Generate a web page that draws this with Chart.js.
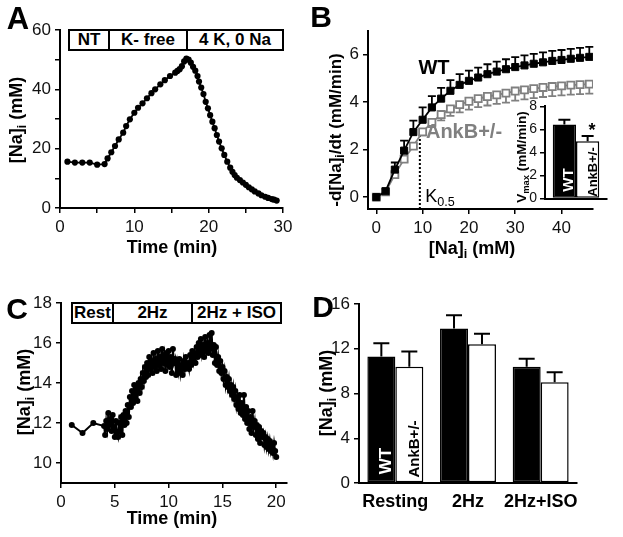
<!DOCTYPE html>
<html>
<head>
<meta charset="utf-8">
<script src="https://cdn.jsdelivr.net/npm/chart.js@4.4.1/dist/chart.umd.min.js"></script>
<style>
  html, body { margin: 0; padding: 0; background: #fff; }
  #fig { position: relative; width: 623px; height: 537px; overflow: hidden; font-family: "Liberation Sans", Arial, sans-serif; color: #000; }
  canvas { position: absolute; }
  .t { position: absolute; white-space: nowrap; font-weight: bold; line-height: 1; transform: translate(-50%, -50%); }
  .rot { transform: translate(-50%, -50%) rotate(-90deg); }
  .box { position: absolute; display: flex; border: 2px solid #000; box-sizing: border-box; background: #fff; font-weight: bold; font-size: 17px; }
  .box div { display: flex; align-items: center; justify-content: center; border-right: 2px solid #000; box-sizing: border-box; }
  .box div:last-child { border-right: none; }
  sub { font-size: 70%; vertical-align: -0.28em; line-height: 0; }
</style>
</head>
<body>
<div id="fig">
  <canvas id="chartA" width="310" height="268" style="left:0;top:0"></canvas>
  <canvas id="chartB" width="313" height="268" style="left:310px;top:0"></canvas>
  <canvas id="chartInset" width="120" height="115" style="left:495px;top:95px"></canvas>
  <canvas id="chartC" width="310" height="267" style="left:0;top:270px"></canvas>
  <canvas id="chartD" width="313" height="267" style="left:310px;top:270px"></canvas>

  <!-- panel letters -->
  <div class="t" style="left:18px;top:18px;font-size:31px">A</div>
  <div class="t" style="left:321px;top:17px;font-size:30px">B</div>
  <div class="t" style="left:17px;top:309px;font-size:30px">C</div>
  <div class="t" style="left:323px;top:307px;font-size:30px">D</div>

  <!-- panel A -->
  <div class="box" style="left:68px;top:29px;width:216px;height:22px">
    <div style="width:40px">NT</div><div style="width:78px">K- free</div><div style="flex:1">4 K, 0 Na</div>
  </div>
  <div class="t rot" style="left:16px;top:120px;font-size:18px">[Na]<sub>i</sub> (mM)</div>
  <div class="t" style="left:172px;top:247px;font-size:18px">Time (min)</div>

  <!-- panel B -->
  <div class="t rot" style="left:335px;top:130px;font-size:17px">-d[Na]<sub>i</sub>/dt (mM/min)</div>
  <div class="t" style="left:472px;top:248px;font-size:18px">[Na]<sub>i</sub> (mM)</div>
  <div class="t" style="left:434px;top:67px;font-size:20px">WT</div>
  <div class="t" style="left:464px;top:131px;font-size:20px;color:#808080">AnkB+/-</div>
  <div class="t" style="left:440px;top:196px;font-size:18px;font-weight:normal">K<sub>0.5</sub></div>
  <div class="t rot" style="left:522px;top:157px;font-size:13.5px">V<sub>max</sub> (mM/min)</div>
  <div class="t" style="left:592px;top:130px;font-size:18px">*</div>
  <div class="t rot" style="left:567px;top:180px;font-size:15px;color:#fff">WT</div>
  <div class="t rot" style="left:592px;top:172px;font-size:13px">AnkB+/-</div>

  <!-- panel C -->
  <div class="box" style="left:71px;top:302px;width:211px;height:22px">
    <div style="width:41px">Rest</div><div style="width:79px">2Hz</div><div style="flex:1">2Hz + ISO</div>
  </div>
  <div class="t rot" style="left:24px;top:392px;font-size:18px">[Na]<sub>i</sub> (mM)</div>
  <div class="t" style="left:172px;top:518px;font-size:18px">Time (min)</div>

  <!-- panel D -->
  <div class="t rot" style="left:326px;top:393px;font-size:18px">[Na]<sub>i</sub> (mM)</div>
  <div class="t rot" style="left:385px;top:461px;font-size:17px;color:#fff">WT</div>
  <div class="t rot" style="left:413px;top:449px;font-size:15px">AnkB+/-</div>
</div>

<script>
// ---- panel A: [Na]i trace (NT -> K-free -> 4K, 0Na)
const aTime = [1, 2, 3, 4, 5, 6, 6.4, 6.9, 7.4, 7.9, 8.5, 8.9, 9.4, 10.0, 10.5, 11.1,
  11.7, 12.3, 12.8, 13.5, 14.1, 14.8, 15.5, 15.8, 16.1, 16.4, 16.7, 17.0, 17.3, 17.6,
  17.9, 18.2, 18.5, 18.7, 19.0, 19.3, 19.6, 19.9, 20.2, 20.5, 20.8, 21.1, 21.4, 21.75,
  22.1, 22.5, 22.9, 23.2, 23.5, 23.8, 24.2, 24.6, 25.0, 25.4, 25.8, 26.2, 26.7, 27.1,
  27.6, 28.0, 28.5, 28.8, 29.15];
const aNa = [15.6, 15.3, 15.3, 15.3, 14.6, 14.8, 16.7, 18.8, 20.9, 23.1, 25.4, 27.6, 29.9, 32.1, 33.8, 35.3,
  37.0, 38.7, 40.0, 41.7, 43.1, 44.5, 45.6, 46.2, 46.8, 47.8, 49.4, 50.4, 50.0, 49.0,
  47.6, 46.3, 44.5, 42.6, 40.6, 38.4, 35.8, 33.6, 31.3, 29.1, 26.9, 24.6, 22.4, 20.1,
  17.9, 15.6, 13.6, 12.2, 11.1, 10.2, 9.4, 8.6, 7.8, 7.0, 6.3, 5.6, 4.9, 4.3,
  3.8, 3.4, 3.0, 2.8, 2.5];

// ---- panel B: Na/K pump rate vs [Na]i
const bNa = [0, 2, 4, 6, 8, 10, 12, 14, 16, 18, 20, 22, 24, 26, 28, 30, 32, 34, 36, 38, 40, 42, 44, 46];
const bWT = [0, 0.25, 1.16, 1.96, 2.74, 3.26, 3.78, 4.15, 4.48, 4.73, 4.9, 5.04, 5.18, 5.29, 5.39, 5.48, 5.55, 5.62, 5.68, 5.74, 5.78, 5.83, 5.87, 5.91];
const bWTErr = [0, 0.1, 0.3, 0.42, 0.48, 0.52, 0.48, 0.45, 0.45, 0.45, 0.43, 0.42, 0.42, 0.42, 0.42, 0.42, 0.42, 0.42, 0.42, 0.42, 0.42, 0.42, 0.42, 0.42];
const bAnk = [0, 0.22, 0.95, 1.6, 2.15, 2.75, 3.15, 3.48, 3.72, 3.9, 4.04, 4.15, 4.24, 4.31, 4.38, 4.47, 4.52, 4.57, 4.62, 4.66, 4.69, 4.72, 4.74, 4.76];
const bAnkErr = [0, 0.05, 0.1, 0.1, 0.12, 0.15, 0.2, 0.25, 0.3, 0.33, 0.35, 0.36, 0.38, 0.38, 0.4, 0.4, 0.4, 0.4, 0.4, 0.4, 0.4, 0.4, 0.4, 0.4];
const kHalf = 9.4;
const kHalfTop = 2.65;
const vmax = [6.44, 4.97];
const vmaxErr = [0.4, 0.46];

// ---- panel C: [Na]i during pacing
const cTime = [1, 2, 3,
  4.0, 4.1, 4.2, 4.3, 4.4, 4.5, 4.6, 4.7, 4.8, 4.9,
  5.0, 5.1, 5.2, 5.3, 5.4, 5.5, 5.6, 5.7, 5.8, 5.9,
  6.0, 6.1, 6.2, 6.3, 6.4, 6.5, 6.6, 6.7, 6.8, 6.9,
  7.0, 7.1, 7.2, 7.3, 7.4, 7.5, 7.6, 7.7, 7.8, 7.9,
  8.0, 8.1, 8.2, 8.3, 8.4, 8.5, 8.6, 8.7, 8.8, 8.9,
  9.0, 9.1, 9.2, 9.3, 9.4, 9.5, 9.6, 9.7, 9.8, 9.9,
  10.0, 10.1, 10.2, 10.3, 10.4, 10.5, 10.6, 10.7, 10.8, 10.9,
  11.0, 11.1, 11.2, 11.3, 11.4, 11.5, 11.6, 11.7, 11.8, 11.9,
  12.0, 12.1, 12.2, 12.3, 12.4, 12.5, 12.6, 12.7, 12.8, 12.9,
  13.0, 13.1, 13.2, 13.3, 13.4, 13.5, 13.6, 13.7, 13.8, 13.9,
  14.0, 14.1, 14.2, 14.3, 14.4, 14.5, 14.6, 14.7, 14.8, 14.9,
  15.0, 15.1, 15.2, 15.3, 15.4, 15.5, 15.6, 15.7, 15.8, 15.9,
  16.0, 16.1, 16.2, 16.3, 16.4, 16.5, 16.6, 16.7, 16.8, 16.9,
  17.0, 17.1, 17.2, 17.3, 17.4, 17.5, 17.6, 17.7, 17.8, 17.9,
  18.0, 18.1, 18.2, 18.3, 18.4, 18.5, 18.6, 18.7, 18.8, 18.9,
  19.0, 19.1, 19.2, 19.3, 19.4, 19.5, 19.6, 19.7, 19.8, 19.9,
  20.0];
const cNa = [11.9, 11.5, 12.0,
  11.85, 11.4, 12.1, 11.7, 12.5, 11.9, 12.2, 11.6, 12.4, 11.8,
  11.3, 12.1, 11.5, 11.3, 12.0, 11.6, 12.3, 11.4, 12.4, 11.9,
  12.6, 12.0, 12.9, 12.3, 13.3, 12.8, 13.6, 13.0, 13.9, 13.2,
  13.8, 13.1, 14.0, 13.5, 14.2, 13.8, 14.5, 14.1, 14.8, 14.3,
  15.0, 14.4, 15.3, 14.7, 15.1, 14.5, 15.5, 14.8, 15.2, 14.6,
  15.6, 14.9, 15.3, 14.7, 15.7, 15.0, 15.4, 14.6, 15.5, 14.9,
  15.6, 14.8, 15.3, 14.5, 15.7, 15.0, 15.2, 14.4, 15.0, 14.6,
  15.2, 14.5, 14.9, 14.4, 15.1, 14.7, 15.3, 14.8, 15.0, 14.7,
  15.4, 14.9, 15.6, 15.1, 15.5, 15.0, 15.8, 15.3, 16.0, 15.4,
  16.2, 15.5, 15.9, 15.3, 16.3, 15.6, 16.0, 15.5, 16.4, 15.7,
  16.5, 15.4, 15.9, 15.0, 15.8, 14.9, 15.3, 14.6, 15.1, 14.5,
  14.8, 14.2, 14.6, 13.9, 14.3, 13.8, 14.2, 13.6, 13.9, 13.4,
  13.8, 13.2, 13.6, 12.9, 13.3, 12.7, 13.4, 12.5, 13.0, 12.4,
  13.4, 12.2, 12.8, 12.0, 12.6, 11.7, 12.3, 11.5, 12.6, 11.8,
  12.1, 11.4, 11.9, 11.2, 11.8, 11.0, 11.6, 11.3, 11.5, 10.9,
  11.3, 10.8, 11.2, 10.7, 11.1, 10.6, 10.9, 10.5, 11.0, 10.6,
  10.3];

// ---- panel D: mean [Na]i per condition
const dCats = ['Resting', '2Hz', '2Hz+ISO'];
const dWT = [11.3, 13.8, 10.4];
const dWTErr = [1.2, 1.2, 0.7];
const dAnk = [10.4, 12.4, 9.0];
const dAnkErr = [1.35, 0.95, 0.9];

const FONT = '"Liberation Sans", Arial, sans-serif';
Chart.defaults.font.family = FONT;
Chart.defaults.animation = false;
Chart.defaults.responsive = false;
Chart.defaults.plugins.legend.display = false;
Chart.defaults.plugins.tooltip.enabled = false;

// error bars drawn from dataset.err, in the dataset's y scale
const errorBars = {
    id: 'errorBars',
    beforeDatasetsDraw(chart) {
        const ctx = chart.ctx;
        const yScale = chart.scales.y;
        chart.data.datasets.forEach((ds, i) => {
            if (!ds.err) return;
            const meta = chart.getDatasetMeta(i);
            ctx.save();
            ctx.strokeStyle = ds.errColor || '#000';
            ctx.lineWidth = ds.errWidth || 1.5;
            meta.data.forEach((el, j) => {
                const e = ds.err[j];
                if (!e) return;
                const raw = ds.data[j];
                const v = typeof raw === 'object' ? raw.y : raw;
                const y0 = yScale.getPixelForValue(v);
                const y1 = yScale.getPixelForValue(v + (ds.errDir || 1) * e);
                const half = (ds.capWidth || 8) / 2;
                ctx.beginPath();
                ctx.moveTo(el.x, y0); ctx.lineTo(el.x, y1);
                ctx.moveTo(el.x - half, y1); ctx.lineTo(el.x + half, y1);
                ctx.stroke();
            });
            ctx.restore();
        });
    }
};

function axis(opts) {
    return {
        type: opts.type || 'linear',
        min: opts.min, max: opts.max,
        border: { color: '#000', width: 2 },
        grid: { drawOnChartArea: false, drawTicks: opts.drawTicks !== false, color: '#000', lineWidth: 1.5, tickLength: 5 },
        ticks: Object.assign({
            color: '#111',
            font: { size: opts.fontSize || 17 },
            padding: 4,
            stepSize: opts.step,
            includeBounds: false,
            maxRotation: 0,
            autoSkip: false,
            display: opts.showTicks !== false
        }, opts.ticks || {}),
        afterFit(scale) {
            if (scale.isHorizontal()) scale.height = opts.size;
            else scale.width = opts.size;
        }
    };
}

function xy(xs, ys) {
    return xs.map((x, i) => ({ x: x, y: ys[i] }));
}

// Panel A
new Chart(document.getElementById('chartA'), {
    type: 'line',
    data: {
        datasets: [{
            data: xy(aTime, aNa),
            borderColor: '#000', borderWidth: 1.8,
            pointRadius: 3.1, pointBackgroundColor: '#000', pointBorderWidth: 0
        }]
    },
    options: {
        layout: { padding: { top: 30, right: 27, left: 0, bottom: 0 } },
        scales: {
            x: axis({ min: 0, max: 30, step: 5, size: 60, ticks: { callback: v => v % 10 === 0 ? v : '' } }),
            y: axis({ min: 0, max: 60, step: 10, size: 60, ticks: { callback: v => v % 20 === 0 ? v : '' } })
        }
    }
});

// Panel B
new Chart(document.getElementById('chartB'), {
    type: 'line',
    data: {
        datasets: [{
            data: xy(bNa, bWT), err: bWTErr, errDir: 1, capWidth: 8, errWidth: 1.8, errColor: '#000',
            borderColor: '#000', borderWidth: 1.8,
            pointStyle: 'rect', pointRadius: 5, pointBackgroundColor: '#000', pointBorderColor: '#000', pointBorderWidth: 1
        }, {
            data: xy(bNa, bAnk), err: bAnkErr, errDir: -1, capWidth: 8, errWidth: 1.8, errColor: '#808080',
            borderColor: '#808080', borderWidth: 1.8,
            pointStyle: 'rect', pointRadius: 5, pointBackgroundColor: '#fff', pointBorderColor: '#808080', pointBorderWidth: 1.8
        }, {
            data: [{ x: kHalf, y: -0.5 }, { x: kHalf, y: kHalfTop }],
            borderColor: '#000', borderWidth: 2, borderDash: [2, 2], pointRadius: 0
        }]
    },
    options: {
        layout: { padding: { top: 31, right: 30, left: 0, bottom: 0 } },
        scales: {
            x: axis({ min: -1.8, max: 46.8, step: 10, size: 59 }),
            y: axis({ min: -0.5, max: 7, step: 2, size: 58 })
        }
    },
    plugins: [errorBars]
});

// Panel B inset: Vmax
new Chart(document.getElementById('chartInset'), {
    type: 'bar',
    data: {
        labels: [''],
        datasets: [{
            data: [vmax[0]], err: [vmaxErr[0]], capWidth: 12, errWidth: 2,
            backgroundColor: '#000', borderColor: '#000', borderWidth: 1.5, borderSkipped: false
        }, {
            data: [vmax[1]], err: [vmaxErr[1]], capWidth: 12, errWidth: 2,
            backgroundColor: '#fff', borderColor: '#000', borderWidth: 1.5, borderSkipped: false
        }]
    },
    options: {
        layout: { padding: { top: 7, right: 8, left: 0, bottom: 0 } },
        datasets: { bar: { barPercentage: 1, categoryPercentage: 0.75 } },
        scales: {
            x: axis({ type: 'category', size: 8, drawTicks: false, showTicks: false }),
            y: axis({ min: 0, max: 8, step: 2, size: 50, fontSize: 14, ticks: { padding: 3 } })
        }
    },
    plugins: [errorBars]
});

// Panel C
new Chart(document.getElementById('chartC'), {
    type: 'line',
    data: {
        datasets: [{
            data: xy(cTime, cNa),
            borderColor: '#000', borderWidth: 2,
            pointRadius: 3, pointBackgroundColor: '#000', pointBorderWidth: 0
        }]
    },
    options: {
        layout: { padding: { top: 33, right: 23, left: 0, bottom: 0 } },
        scales: {
            x: axis({ min: 0, max: 21, step: 5, size: 54 }),
            y: axis({ min: 9, max: 18, step: 2, size: 61 })
        }
    }
});

// Panel D
new Chart(document.getElementById('chartD'), {
    type: 'bar',
    data: {
        labels: dCats,
        datasets: [{
            label: 'WT', data: dWT, err: dWTErr, capWidth: 16, errWidth: 2,
            backgroundColor: '#000', borderColor: '#000', borderWidth: 1.5, borderSkipped: false
        }, {
            label: 'AnkB+/-', data: dAnk, err: dAnkErr, capWidth: 16, errWidth: 2,
            backgroundColor: '#fff', borderColor: '#000', borderWidth: 1.5, borderSkipped: false
        }]
    },
    options: {
        layout: { padding: { top: 34, right: 46, left: 0, bottom: 0 } },
        datasets: { bar: { barPercentage: 1, categoryPercentage: 0.77 } },
        scales: {
            x: axis({ type: 'category', size: 54, drawTicks: false,
                ticks: { color: '#000', font: { size: 18, weight: 'bold' }, padding: 8 } }),
            y: axis({ min: 0, max: 16, step: 4, size: 49 })
        }
    },
    plugins: [errorBars]
});
</script>
</body>
</html>
